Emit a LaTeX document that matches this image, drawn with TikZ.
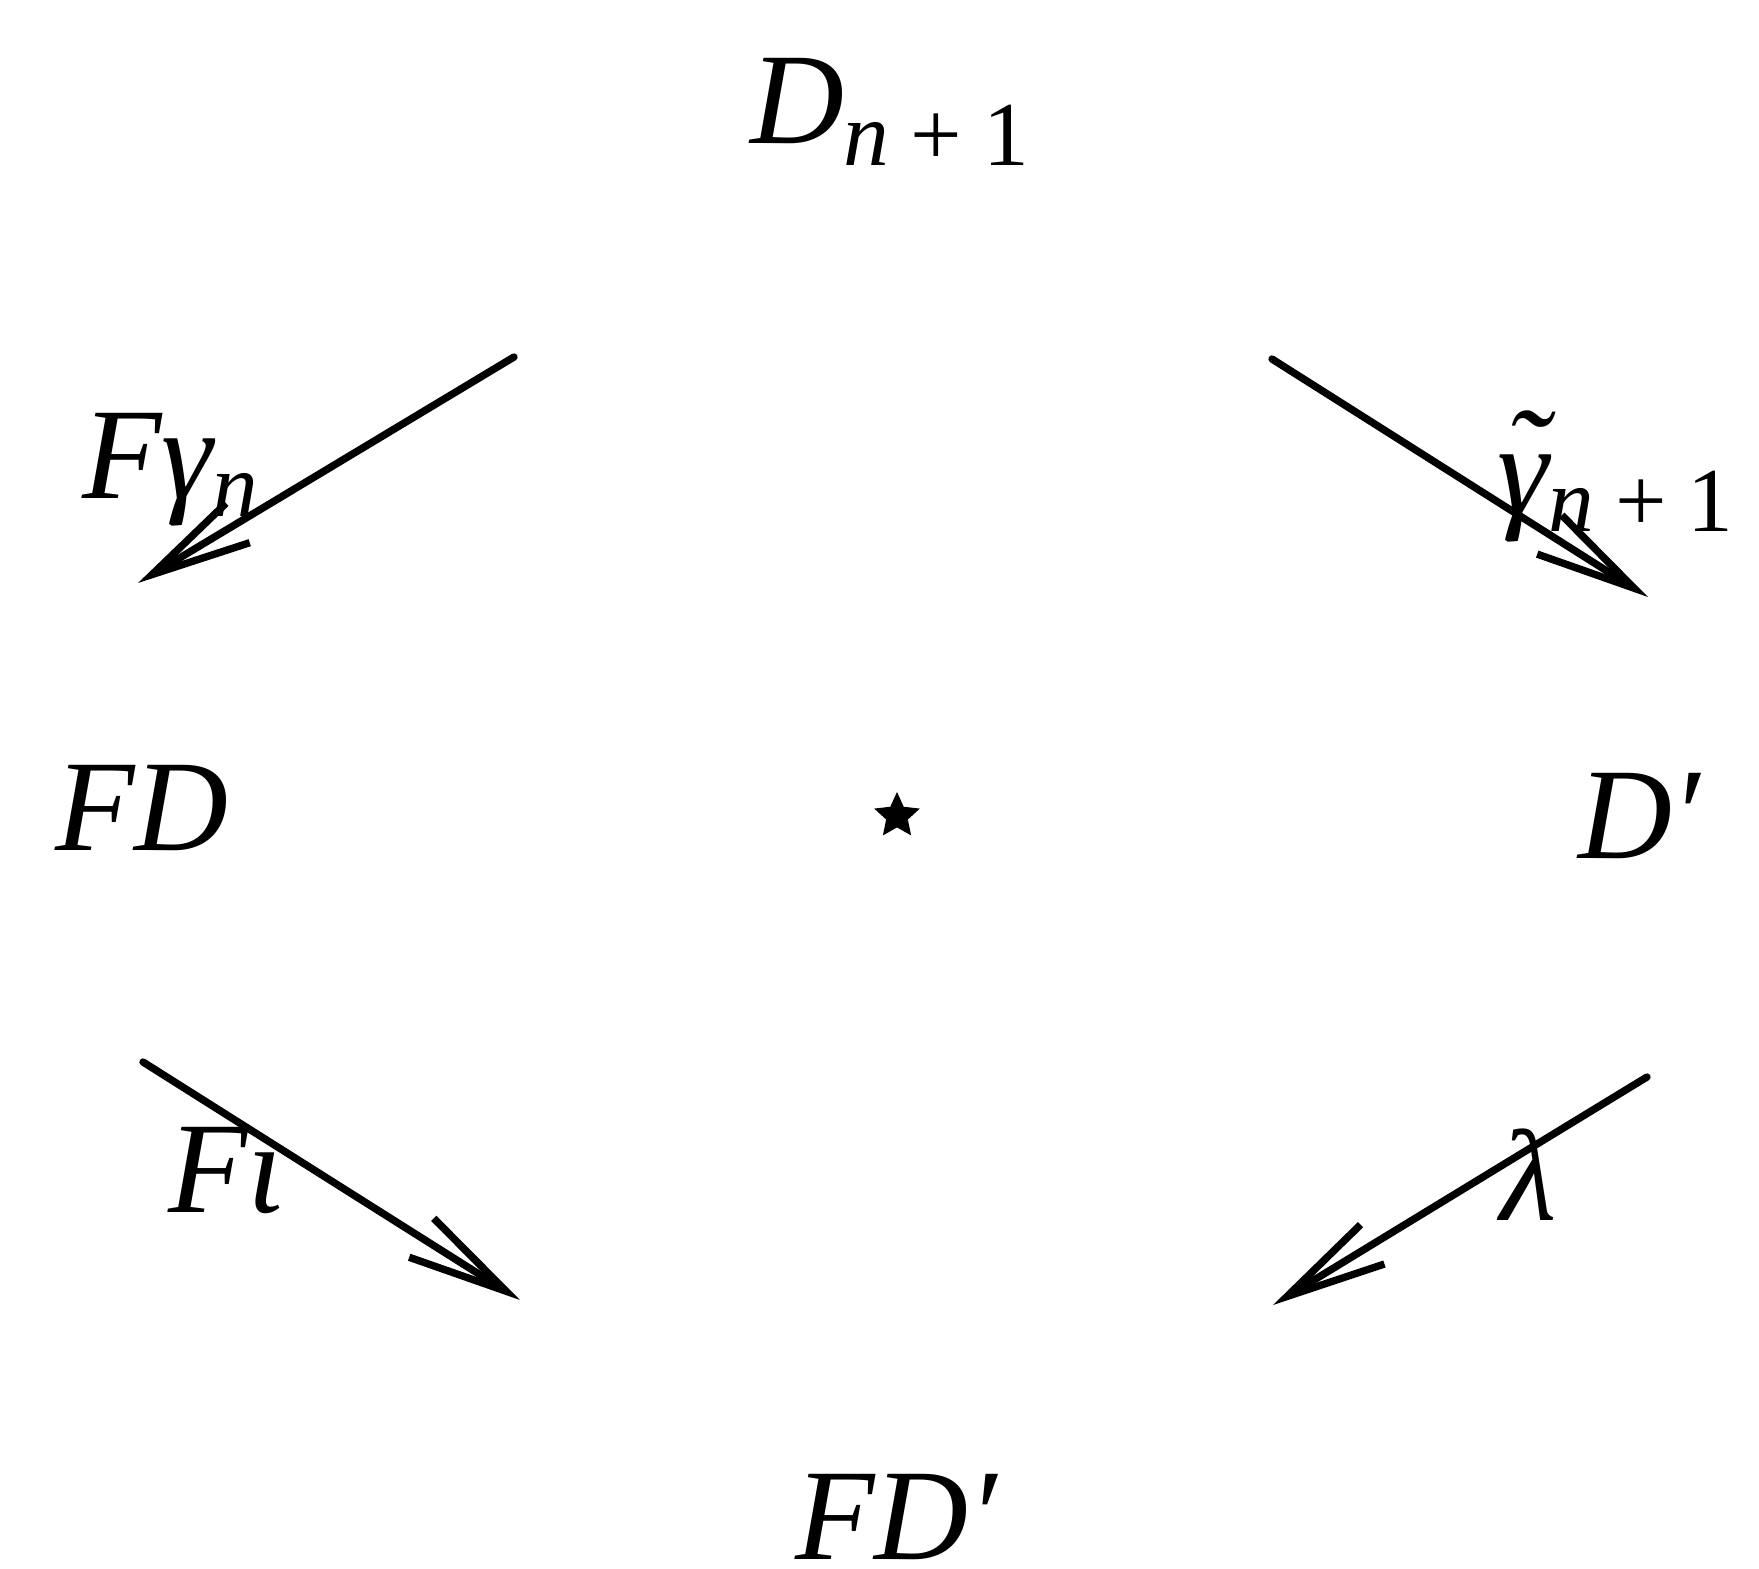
\documentclass[tikz,border=0pt]{standalone}
\usepackage{fontspec}
\setmainfont{Liberation Serif}
\usetikzlibrary{arrows.meta,shapes.geometric}
\newcommand\sbs[2][6.5pt]{\raisebox{-#1}{\fontsize{26}{30}\selectfont #2}}
\newcommand\npo{n\hspace{6pt}{\upshape +}\hspace{6pt}{\upshape 1}}
\begin{document}
\begin{tikzpicture}[x=0.01cm,y=-0.01cm,
  lbl/.style={inner sep=0pt, outer sep=0pt, anchor=base west, font=\fontsize{37}{44}\selectfont\itshape},
  ar/.style={line width=2.1pt, line cap=round, -{Straight Barb[length=1cm,width=0.46cm]}},
  starmark/.style={star, star points=5, star point ratio=2.1, fill=black, draw=none, inner sep=0pt, minimum size=0.48cm}]
\useasboundingbox (0,0) rectangle (1759,1569);
% objects
\node[lbl] (top) at (750,143) {D\sbs{\npo}};
\node[lbl] (left) at (55,850) {FD};
\node[lbl] (right) at (1578,858) {D′};
\node[lbl] (bot) at (795,1559) {FD′};
\node[starmark] (mid) at (897,816) {};
% arrow ends
\coordinate (a1s) at (514,357); \coordinate (a1e) at (138,583);
\coordinate (a2s) at (1272,359); \coordinate (a2e) at (1648,597);
\coordinate (a3s) at (143,1062); \coordinate (a3e) at (520,1300);
\coordinate (a4s) at (1647,1077); \coordinate (a4e) at (1273,1305);
\draw[ar] (a1s) -- (a1e);
\draw[ar] (a2s) -- (a2e);
\draw[ar] (a3s) -- (a3e);
\draw[ar] (a4s) -- (a4e);
% labels
\node[lbl] (l1) at (82,498) {Fγ\sbs[5.2pt]{n}};
\node[lbl] (l2) at (1497,514) {\rlap{\hspace{2pt}\raisebox{4.5pt}{˜}}γ\sbs[5pt]{\npo}};
\node[lbl] (l3) at (168,1212) {Fι};
\node[lbl] (l4) at (1500,1220) {λ};
\end{tikzpicture}
\end{document}
